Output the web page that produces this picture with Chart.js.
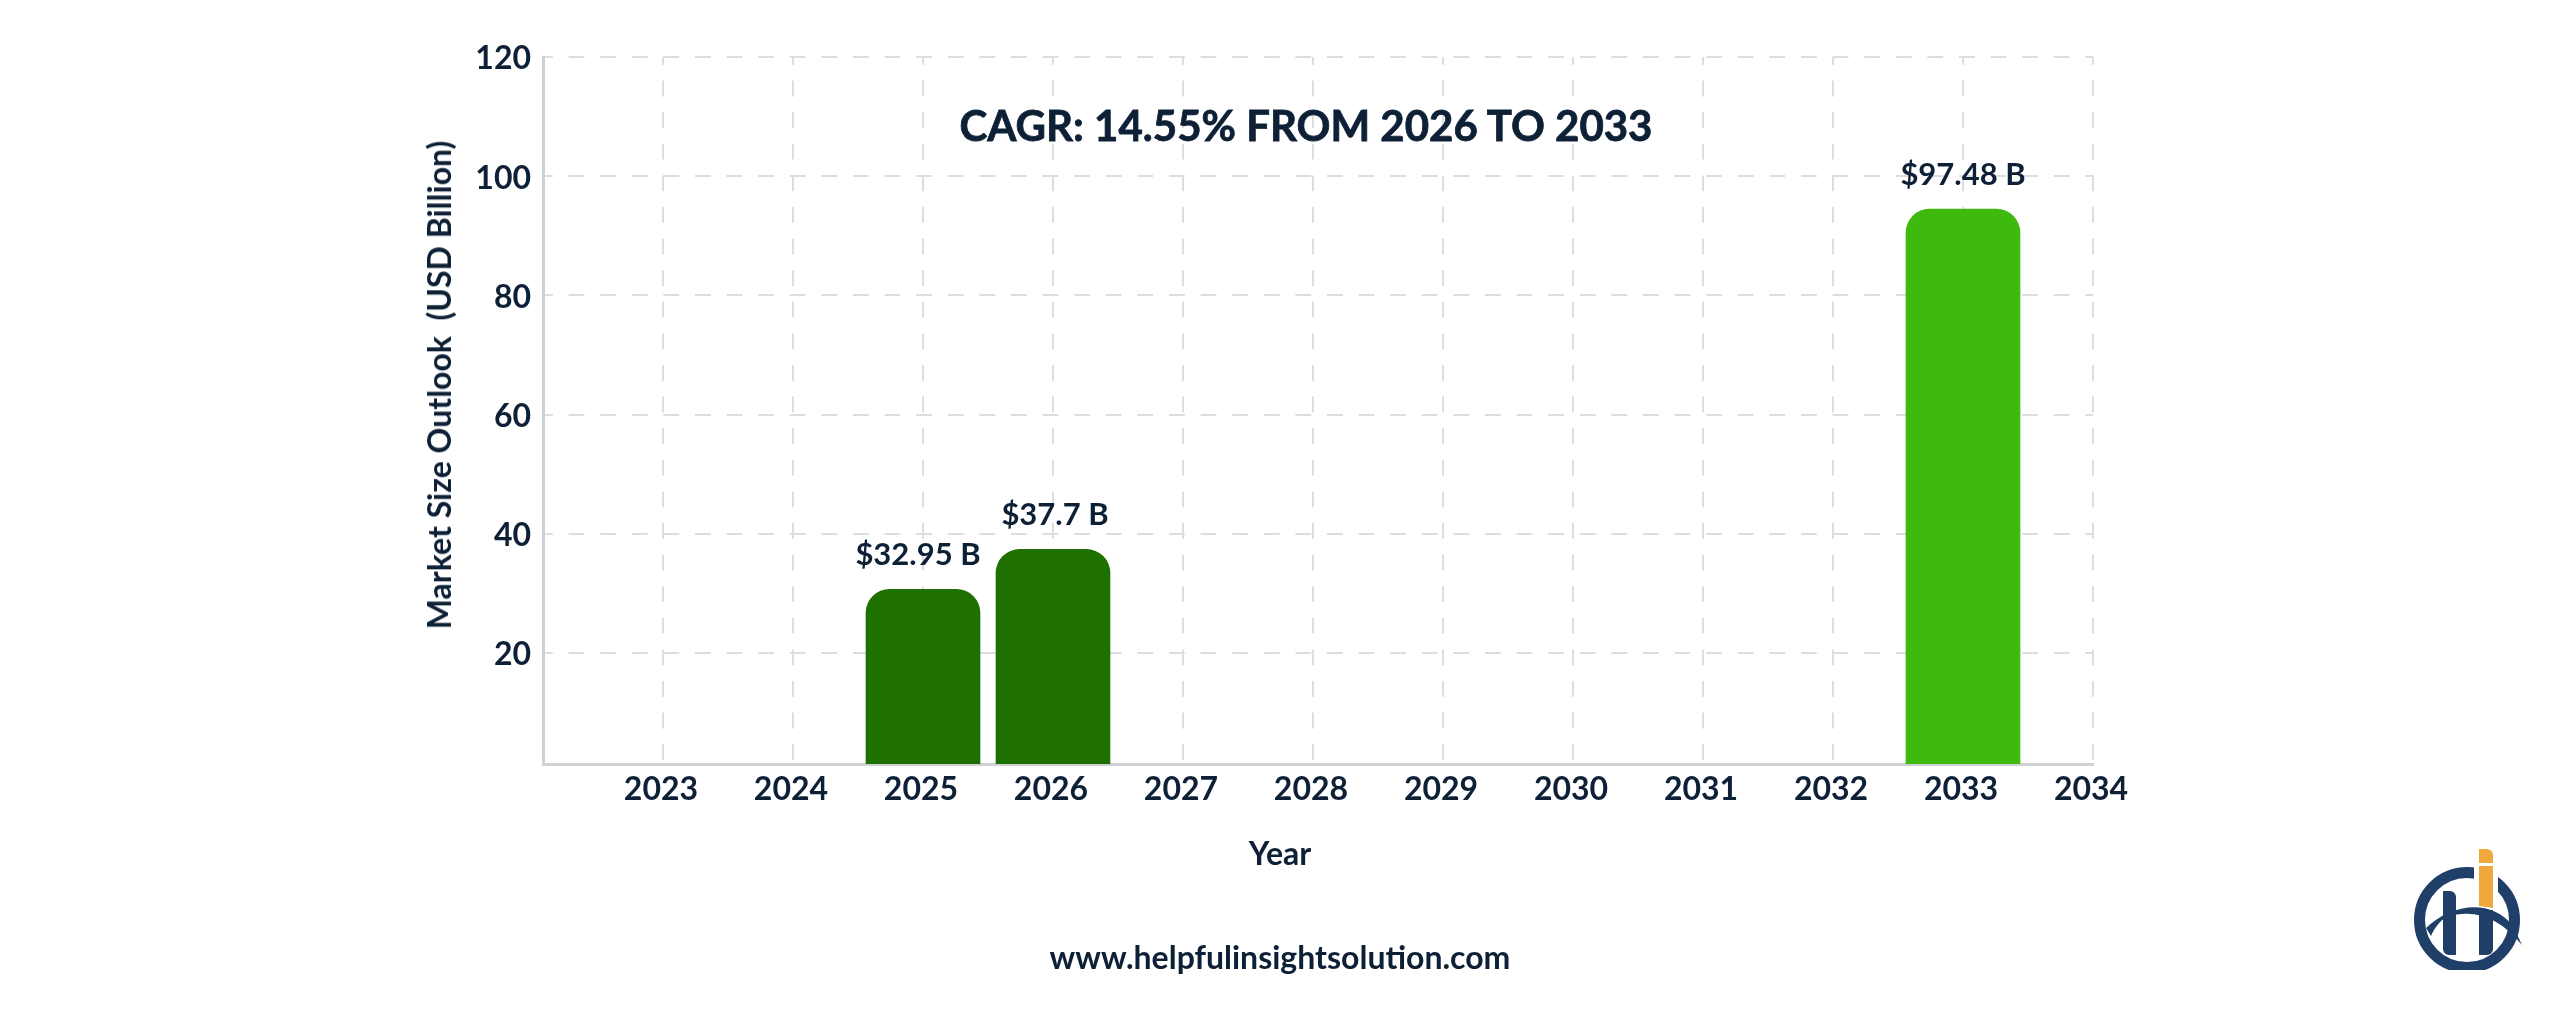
<!DOCTYPE html>
<html><head><meta charset="utf-8">
<style>
html,body{margin:0;padding:0;background:#fff;width:2560px;height:1011px;overflow:hidden}
#wrap{position:relative;width:2560px;height:1011px}
canvas{position:absolute;left:0;top:0}
.t{position:absolute;font-family:Lato,sans-serif;font-weight:700;color:#0d2036;white-space:nowrap;transform:translate(-50%,-50%);line-height:1}
#logo{position:absolute;left:2400px;top:840px}
</style>
<script src="https://cdn.jsdelivr.net/npm/chart.js@4/dist/chart.umd.js"></script>
</head><body><div id="wrap">
<canvas id="c" width="2560" height="1011"></canvas>
<div class="t" id="title" style="left:1306px;top:125px;font-size:42px;-webkit-text-stroke:0.8px #0d2036">CAGR: 14.55% FROM 2026 TO 2033</div>
<div class="t" id="ytitle" style="left:439px;top:385px;font-size:32px;transform:translate(-50%,-50%) rotate(-90deg)">Market Size Outlook&nbsp; (USD Billion)</div>
<div class="t" id="xtitle" style="left:1280px;top:853px;font-size:32px">Year</div>
<div class="t" id="site" style="left:1280px;top:957px;font-size:32px">www.helpfulinsightsolution.com</div>
<svg id="logo" width="140" height="130" viewBox="2400 840 140 130">
 <circle cx="2467" cy="920" r="47.5" fill="none" stroke="#1f3f68" stroke-width="11"/>
 <rect x="2474" y="845" width="24" height="68" fill="#fff"/>
 <path d="M2443 955 V891 h7 a6 6 0 0 1 6 6 V955 h-7 a6 6 0 0 1 -6 -6Z" fill="#1f3f68"/>
 <path d="M2479 910 h14 V949 a6 6 0 0 1 -6 6 h-8Z" fill="#1f3f68"/>
 <path d="M2426 928 C2450 905 2490 897 2513 926 L2522 945 C2500 918 2475 908 2447 917 C2440 920 2434 929 2431 936Z" fill="#1f3f68"/>
 <path d="M2479 849 h8 a6 6 0 0 1 6 6 V863 h-14Z M2479 866 h14 V908 C2489 907 2484 907 2479 906Z" fill="#f0a83c"/>
</svg>
</div>
<script>
const years=[2023,2024,2025,2026,2027,2028,2029,2030,2031,2032,2033,2034];
const barValues=[null,null,30.7,37.4,null,null,null,null,null,null,94.5,null];
const barLabels=[null,null,"$32.95 B","$37.7 B",null,null,null,null,null,null,"$97.48 B",null];
const barColors=["#1e7000","#1e7000","#1e7000","#1e7000","#1e7000","#1e7000","#1e7000","#1e7000","#1e7000","#1e7000","#3dba0d","#3dba0d"];
const yTicks=[20,40,60,80,100,120];
const ink="#0d2036", gridCol="#dddddd", axisCol="#cfd2d4";
const tickFont={family:"Lato",size:32,weight:"700"};
const labelNudge={"$32.95 B":-5,"$37.7 B":2,"$97.48 B":0};
const labelPlugin={id:"barLabels",afterDatasetsDraw(ch){
  const {ctx}=ch, meta=ch.getDatasetMeta(0);
  ctx.save();ctx.font='700 31px Lato';ctx.fillStyle=ink;ctx.textAlign='center';ctx.textBaseline='middle';
  meta.data.forEach((el,i)=>{ if(barLabels[i]) ctx.fillText(barLabels[i],el.x+labelNudge[barLabels[i]],el.y-34); });
  ctx.restore();
}};
new Chart(document.getElementById('c'),{
  type:'bar',
  data:{datasets:[{label:'Market Size',data:years.map((y,i)=>({x:y,y:barValues[i]})),backgroundColor:barColors,
    barThickness:114,borderRadius:{topLeft:24,topRight:24},borderSkipped:false}]},
  plugins:[labelPlugin],
  options:{responsive:false,animation:false,devicePixelRatio:1,
    layout:{padding:{top:57,right:467,left:0,bottom:0}},
    plugins:{legend:{display:false},tooltip:{enabled:false},title:{display:false}},
    scales:{
      x:{type:'linear',min:2022.077,max:2034,offset:false,
        afterBuildTicks:s=>{s.ticks=years.map(v=>({value:v}));},
        afterFit:s=>{s.height=247;},
        grid:{color:gridCol,lineWidth:2,drawTicks:false,offset:false},
        border:{color:axisCol,width:3,dash:[15.8,15.8],dashOffset:8},
        ticks:{padding:6,labelOffset:-2,color:ink,font:tickFont,autoSkip:false,maxRotation:0,callback:v=>String(v)}},
      y:{type:'linear',min:1.4,max:120,
        afterBuildTicks:s=>{s.ticks=yTicks.map(v=>({value:v}));},
        afterFit:s=>{s.width=543;},
        grid:{color:gridCol,lineWidth:2,drawTicks:false},
        border:{color:axisCol,width:3,dash:[15.8,15.8],dashOffset:8},
        ticks:{padding:12,labelOffset:2,color:ink,font:tickFont,callback:v=>String(v)}}
    }
  }
});
</script>
</body></html>
